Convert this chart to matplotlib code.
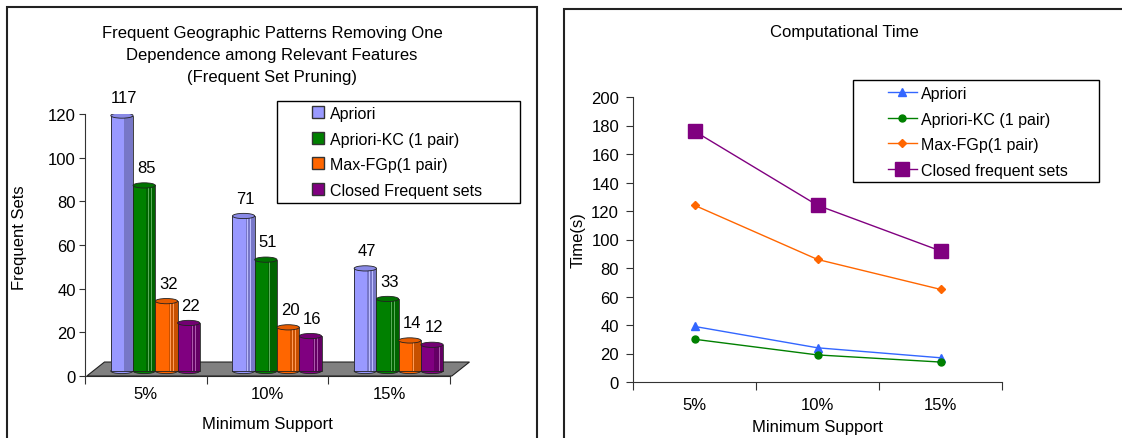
import matplotlib
matplotlib.use('Agg')
import matplotlib.pyplot as plt
from matplotlib.patches import Rectangle, Ellipse, Polygon
from matplotlib.transforms import ScaledTranslation
from matplotlib.lines import Line2D
from matplotlib import colors as mcolors

plt.rcParams['font.family'] = ['Liberation Sans', 'DejaVu Sans']
plt.rcParams['font.size'] = 12

supports = ['5%', '10%', '15%']

# frequent sets per minimum support
freq_labels = ['Apriori', 'Apriori-KC (1 pair)', 'Max-FGp(1 pair)', 'Closed Frequent sets']
freq_apriori = [117, 71, 47]
freq_kc = [85, 51, 33]
freq_maxfgp = [32, 20, 14]
freq_closed = [22, 16, 12]

# computational time (s) per minimum support
time_labels = ['Apriori', 'Apriori-KC (1 pair)', 'Max-FGp(1 pair)', 'Closed frequent sets']
time_apriori = [39, 24, 17]
time_kc = [30, 19, 14]
time_maxfgp = [124, 86, 65]
time_closed = [176, 124, 92]

bar_colors = ['#9999FF', '#008000', '#FF6600', '#800080']
line_colors = ['#3366FF', '#008000', '#FF6600', '#800080']
line_markers = ['^', 'o', 'D', 's']
marker_sizes = [6, 5, 4.5, 10]

W, H = 1122, 439
fig = plt.figure(figsize=(W / 100, H / 100), dpi=100)


def box(x0, y0, x1, y1):
    # pixel box (top-left origin) -> figure fraction rect
    return [x0 / W, 1 - y1 / H, (x1 - x0) / W, (y1 - y0) / H]


def shade(c, f):
    r, g, b = mcolors.to_rgb(c)
    if f < 1:
        return (r * f, g * f, b * f)
    return tuple(v + (1 - v) * (f - 1) for v in (r, g, b))


# panel frames
fig.add_artist(Rectangle((7 / W, -0.05), 530 / W, 1.05 - 8 / H, transform=fig.transFigure,
                         fill=False, ec='#222222', lw=1.5))
fig.add_artist(Rectangle((564 / W, -0.05), 0.5, 1.05 - 10 / H, transform=fig.transFigure,
                         fill=False, ec='#222222', lw=1.5))

# ---------------- left: 3D-looking cylinder bars ----------------
ax1 = fig.add_axes(box(85, 115, 450, 377))
ax1.set_xlim(-0.5, 2.5)
ax1.set_ylim(0, 120)
for s in ['top', 'right']:
    ax1.spines[s].set_visible(False)
for s in ['left', 'bottom']:
    ax1.spines[s].set_color('#333333')
    ax1.spines[s].set_zorder(0.5)

# floor
depth_x, depth_y = 0.145, 6.4
floor = Polygon([(-0.485, 0), (-0.485 + depth_x, depth_y), (2.515 + depth_x, depth_y), (2.515, 0)],
                closed=True, fc='#808080', ec='#222222', lw=0.8, clip_on=False, zorder=1)
ax1.add_patch(floor)

shift = ax1.transData + ScaledTranslation(9.5 / 100, 5 / 100, fig.dpi_scale_trans)
bw = 0.183
freq_series = [freq_apriori, freq_kc, freq_maxfgp, freq_closed]
for i, (vals, c) in enumerate(zip(freq_series, bar_colors)):
    for j, v in enumerate(vals):
        x = j + (i - 1.5) * bw
        ax1.add_patch(Ellipse((x, 0), bw, 2.4, transform=shift, fc=c, ec='#222222', lw=0.6, zorder=2))
        ax1.bar(x, v, width=bw, color=c, ec='none', transform=shift, zorder=3)
        ax1.bar(x + bw * 0.3, v, width=bw * 0.4, color=shade(c, 0.78), ec='none', transform=shift, zorder=3)
        for k in (0.18, 0.32):
            ax1.bar(x + bw * k, v, width=bw * 0.035, color=shade(c, 1.35), ec='none', transform=shift, zorder=3)
        ax1.bar(x, v, width=bw, fill=False, ec='#222222', lw=0.6, transform=shift, zorder=3)
        ax1.add_patch(Ellipse((x, v), bw, 2.4, transform=shift, fc=shade(c, 0.9), ec='#222222', lw=0.6, zorder=4))
        ax1.annotate(str(v), xy=(x, v), xycoords=shift, xytext=(1.5, 7.5), textcoords='offset points',
                     ha='center', va='bottom', fontsize=12)

ax1.set_yticks(range(0, 121, 20))
ax1.set_xticks([-0.5, 0.5, 1.5, 2.5])
ax1.set_xticklabels([])
ax1.set_xticks([0, 1, 2], minor=True)
ax1.set_xticklabels(supports, minor=True)
ax1.tick_params(axis='y', length=4, width=0.8, pad=2.5, color='#333333')
ax1.tick_params(axis='x', which='major', length=6, width=0.8, color='#333333')
ax1.tick_params(axis='x', which='minor', length=0, pad=7)
ax1.set_xlabel('Minimum Support')
ax1.xaxis.set_label_coords(0.5, -48 / 262)
ax1.xaxis.label.set_va('center')
ax1.set_ylabel('Frequent Sets')
ax1.yaxis.set_label_coords(-65 / 365, 0.53)
ax1.yaxis.label.set_va('center')

fig.text(272 / W, 1 - 55.5 / H,
         'Frequent Geographic Patterns Removing One\nDependence among Relevant Features\n(Frequent Set Pruning)',
         ha='center', va='center', linespacing=1.62)

fig.add_artist(Rectangle((277 / W, 1 - 204 / H), 243 / W, 102 / H, transform=fig.transFigure,
                         fill=False, ec='black', lw=1))
sq = [Line2D([], [], marker='s', ls='none', mfc=c, mec='#333333', ms=8.5) for c in bar_colors]
fig.legend(sq, freq_labels, loc='upper left', bbox_to_anchor=(311.6 / W, 1 - 107 / H),
           frameon=False, borderpad=0, borderaxespad=0, handlelength=0.8, handletextpad=0.35,
           labelspacing=0.66, fontsize=11.5)

# ---------------- right: computational time ----------------
ax2 = fig.add_axes(box(633, 98, 1002, 383))
ax2.set_xlim(-0.5, 2.5)
ax2.set_ylim(0, 200)
for s in ['top', 'right']:
    ax2.spines[s].set_visible(False)
for s in ['left', 'bottom']:
    ax2.spines[s].set_color('#333333')

time_series = [time_apriori, time_kc, time_maxfgp, time_closed]
handles = []
for vals, c, m, ms in zip(time_series, line_colors, line_markers, marker_sizes):
    h, = ax2.plot(range(len(supports)), vals, color=c, lw=1, marker=m, ms=ms, mfc=c, mec=c, clip_on=False)
    handles.append(h)

ax2.set_yticks(range(0, 201, 20))
ax2.set_xticks([-0.5, 0.5, 1.5, 2.5])
ax2.set_xticklabels([])
ax2.set_xticks([0, 1, 2], minor=True)
ax2.set_xticklabels(supports, minor=True)
ax2.tick_params(axis='y', length=5, width=0.8, pad=5, color='#333333')
ax2.tick_params(axis='x', which='major', length=6, width=0.8, color='#333333')
ax2.tick_params(axis='x', which='minor', length=0, pad=11)
ax2.set_xlabel('Minimum Support')
ax2.xaxis.set_label_coords(0.5, -45 / 285)
ax2.xaxis.label.set_va('center')
ax2.set_ylabel('Time(s)')
ax2.yaxis.set_label_coords(-55 / 369, 0.5)
ax2.yaxis.label.set_va('center')

fig.text(844 / W, 1 - 33 / H, 'Computational Time', ha='center', va='center')

fig.add_artist(Rectangle((853 / W, 1 - 183 / H), 246 / W, 102 / H, transform=fig.transFigure,
                         fill=False, ec='black', lw=1))
fig.legend(handles, time_labels, loc='upper left', bbox_to_anchor=(888 / W, 1 - 87 / H),
           frameon=False, borderpad=0, borderaxespad=0, handlelength=1.8, handletextpad=0.25,
           labelspacing=0.66, fontsize=11.5)

fig.savefig('out.png', dpi=100)
